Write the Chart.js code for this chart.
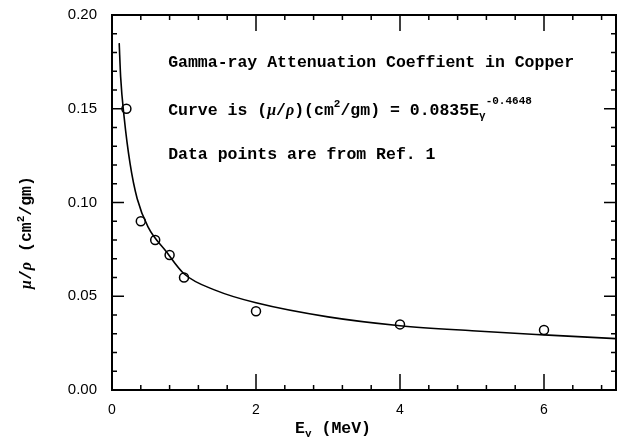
<!DOCTYPE html>
<html>
<head>
<meta charset="utf-8">
<script src="https://cdn.jsdelivr.net/npm/chart.js@4.4.1/dist/chart.umd.min.js"></script>
<style>
  html, body { margin: 0; padding: 0; background: #fff; }
  #wrap { width: 617px; height: 437px; position: relative; }
</style>
</head>
<body>
<div id="wrap"><canvas id="attChart"></canvas></div>
<script>
// measured points (Ref. 1)
const pointE = [0.2, 0.4, 0.6, 0.8, 1.0, 2.0, 4.0, 6.0];
const pointMu = [0.150, 0.090, 0.080, 0.072, 0.060, 0.042, 0.035, 0.032];

// fitted curve
const curveE = [0.1, 0.12, 0.17, 0.25, 0.35, 0.5, 0.75, 1.0, 1.45, 2, 3, 4, 5, 6, 7];
const curveMu = [0.185, 0.167, 0.145, 0.121, 0.102, 0.087, 0.074, 0.062, 0.053, 0.0465, 0.039, 0.0343, 0.0316, 0.0294, 0.0274];

const xMajor = [0, 2, 4, 6];
const yMajor = [0, 0.05, 0.10, 0.15, 0.20];

const mono = '"Liberation Mono", "DejaVu Sans Mono", monospace';
const greek = 'italic bold 16px "Liberation Serif", serif';

// inward ticks on all four sides + frame + text
const frameTicks = {
    id: 'frameTicks',
    afterDraw(chart) {
        const c = chart.ctx, a = chart.chartArea;
        const xs = chart.scales.x, ys = chart.scales.y;
        c.save();
        c.strokeStyle = '#000';
        c.lineWidth = 2;
        c.strokeRect(a.left, a.top, a.right - a.left, a.bottom - a.top);
        c.lineWidth = 1.5;
        c.beginPath();
        for (let i = 0; i <= 17; i++) {
            const px = xs.getPixelForValue(i * 0.4);
            c.moveTo(px, a.bottom); c.lineTo(px, a.bottom - 5);
            c.moveTo(px, a.top); c.lineTo(px, a.top + 5);
        }
        for (const m of xMajor) {
            const px = xs.getPixelForValue(m);
            c.moveTo(px, a.bottom); c.lineTo(px, a.bottom - 16);
            c.moveTo(px, a.top); c.lineTo(px, a.top + 16);
        }
        for (let i = 0; i <= 20; i++) {
            const py = ys.getPixelForValue(i / 100);
            const len = i % 5 === 0 ? 12 : 5;
            c.moveTo(a.left, py); c.lineTo(a.left + len, py);
            c.moveTo(a.right, py); c.lineTo(a.right - len, py);
        }
        c.stroke();

        c.fillStyle = '#000';
        c.textBaseline = 'middle';
        const big = 'bold 16.5px ' + mono;
        const small = 'bold 11px ' + mono;
        const run = (parts, x, y) => {
            for (const p of parts) {
                c.font = p.f || big;
                c.fillText(p.t, x, y + (p.dy || 0));
                x += c.measureText(p.t).width;
            }
        };
        const width = parts => {
            let w = 0;
            for (const p of parts) { c.font = p.f || big; w += c.measureText(p.t).width; }
            return w;
        };
        const tx = xs.getPixelForValue(0.78);
        run([{ t: 'Gamma-ray Attenuation Coeffient in Copper' }], tx, ys.getPixelForValue(0.1745));
        run([
            { t: 'Curve is (' },
            { t: 'μ', f: greek },
            { t: '/' },
            { t: 'ρ', f: greek },
            { t: ')(cm' },
            { t: '2', f: small, dy: -6 },
            { t: '/gm) = 0.0835E' },
            { t: 'γ', f: small, dy: 6 },
            { t: '-0.4648', f: small, dy: -9 }
        ], tx, ys.getPixelForValue(0.149));
        run([{ t: 'Data points are from Ref. 1' }], tx, ys.getPixelForValue(0.1255));

        // x axis title
        const xt = [{ t: 'E' }, { t: 'γ', f: small, dy: 5 }, { t: ' (MeV)' }];
        run(xt, xs.getPixelForValue(3.07) - width(xt) / 2, 429);

        // y axis title
        c.translate(27, ys.getPixelForValue(0.084));
        c.rotate(-Math.PI / 2);
        const yt = [
            { t: 'μ', f: greek },
            { t: '/' },
            { t: 'ρ', f: greek },
            { t: ' (cm' },
            { t: '2', f: small, dy: -6 },
            { t: '/gm)' }
        ];
        run(yt, -width(yt) / 2, 0);
        c.restore();
    }
};

const ctx = document.getElementById('attChart').getContext('2d');
const attChart = new Chart(ctx, {
    type: 'scatter',
    data: {
        datasets: [{
            label: 'curve',
            type: 'line',
            data: curveE.map((e, i) => ({ x: e, y: curveMu[i] })),
            borderColor: '#000',
            borderWidth: 1.6,
            pointRadius: 0,
            fill: false,
            cubicInterpolationMode: 'monotone'
        }, {
            label: 'Ref. 1',
            data: pointE.map((e, i) => ({ x: e, y: pointMu[i] })),
            borderColor: '#000',
            backgroundColor: 'rgba(0,0,0,0)',
            borderWidth: 1.5,
            pointRadius: 4.5,
            showLine: false
        }]
    },
    options: {
        responsive: true,
        maintainAspectRatio: false,
        animation: false,
        layout: { autoPadding: false, padding: { top: 15, right: 1, left: 0, bottom: 0 } },
        plugins: { legend: { display: false }, tooltip: { enabled: false } },
        scales: {
            x: {
                type: 'linear',
                min: 0, max: 7,
                afterFit: s => { s.height = 47; s.paddingLeft = 0; s.paddingRight = 0; },
                afterBuildTicks: s => { s.ticks = xMajor.map(v => ({ value: v })); },
                grid: { display: false, drawTicks: false },
                border: { display: false },
                ticks: {
                    color: '#000',
                    padding: 12,
                    font: { family: '"Liberation Sans", Arial, sans-serif', size: 14 },
                    callback: v => String(v)
                }
            },
            y: {
                min: 0, max: 0.2,
                afterFit: s => { s.width = 112; s.paddingTop = 0; s.paddingBottom = 0; },
                afterBuildTicks: s => { s.ticks = yMajor.map(v => ({ value: v })); },
                grid: { display: false, drawTicks: false },
                border: { display: false },
                ticks: {
                    color: '#000',
                    padding: 15,
                    font: { family: '"Liberation Sans", Arial, sans-serif', size: 15 },
                    callback: v => v.toFixed(2)
                }
            }
        }
    },
    plugins: [frameTicks]
});
</script>
</body>
</html>
